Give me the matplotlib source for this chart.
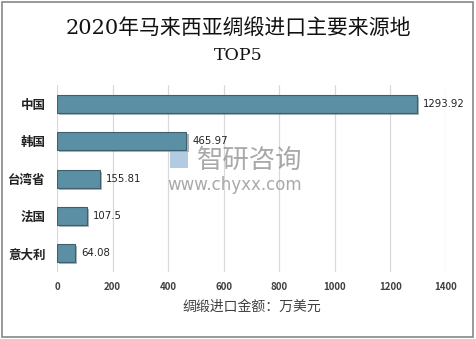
import matplotlib
matplotlib.use("Agg")
import matplotlib.pyplot as plt
import matplotlib.patheffects as pe
from matplotlib.patches import Rectangle

plt.rcParams['font.family'] = ['Noto Sans CJK SC', 'DejaVu Sans']

countries = ["中国", "韩国", "台湾省", "法国", "意大利"]
values = [1293.92, 465.97, 155.81, 107.5, 64.08]
value_labels = ["1293.92", "465.97", "155.81", "107.5", "64.08"]
xticks = [0, 200, 400, 600, 800, 1000, 1200, 1400]

fig = plt.figure(figsize=(4.76, 3.39), dpi=100)
fig.patches.append(Rectangle((0.004, 0.006), 0.99, 0.988, transform=fig.transFigure,
                             fill=False, edgecolor="#888888", linewidth=1.2))

ax = fig.add_axes([0.1197, 0.1976, 0.8173, 0.5514])
ypos = list(range(len(countries)))
bars = ax.barh(ypos, values, height=0.48, color="#5B8FA3", edgecolor="#3E5F6E",
               linewidth=0.8, zorder=3)
for b in bars:
    b.set_path_effects([pe.SimplePatchShadow(offset=(1.5, -1.5), alpha=0.35), pe.Normal()])

for y, v, lab in zip(ypos, values, value_labels):
    ax.text(v + 22, y, lab, va="center", ha="left", fontsize=7.3,
            color="#222222", family=["DejaVu Sans"])

ax.set_xlim(0, 1400)
ax.set_ylim(len(countries) - 0.5, -0.5)
ax.set_xticks(xticks)
ax.set_xticklabels([str(t) for t in xticks], fontsize=7, fontweight="bold", color="#404040")
ax.set_yticks(ypos)
ax.set_yticklabels(countries, fontsize=9, fontweight="bold", color="#222222")
ax.tick_params(axis="x", length=0, pad=7)
ax.tick_params(axis="y", length=0, pad=8)
ax.grid(axis="x", color="#D9D9D9", linewidth=0.9, zorder=0)
for s in ax.spines.values():
    s.set_visible(False)

ax.set_xlabel("绸缎进口金额：万美元", fontsize=10, color="#404040", labelpad=6)

fig.text(0.5, 0.915, "2020年马来西亚绸缎进口主要来源地", ha="center", va="center",
         fontsize=15, color="#111111",
         family=["DejaVu Serif", "Noto Sans CJK SC"])
fig.text(0.5, 0.835, "TOP5", ha="center", va="center", fontsize=12.5,
         color="#111111", family=["DejaVu Serif"])

# watermark
fig.text(0.413, 0.527, "智研咨询", ha="left", va="center", fontsize=19,
         color="#8C8C8C", alpha=0.75, zorder=10)
fig.text(0.352, 0.455, "www.chyxx.com", ha="left", va="center", fontsize=12,
         color="#8C8C8C", alpha=0.75, zorder=10, family=["DejaVu Sans"])
fig.patches.append(Rectangle((0.358, 0.505), 0.038, 0.05, transform=fig.transFigure,
                             facecolor="#7FA8D0", alpha=0.6, edgecolor="none", zorder=10))

fig.savefig("out.png", dpi=100)
